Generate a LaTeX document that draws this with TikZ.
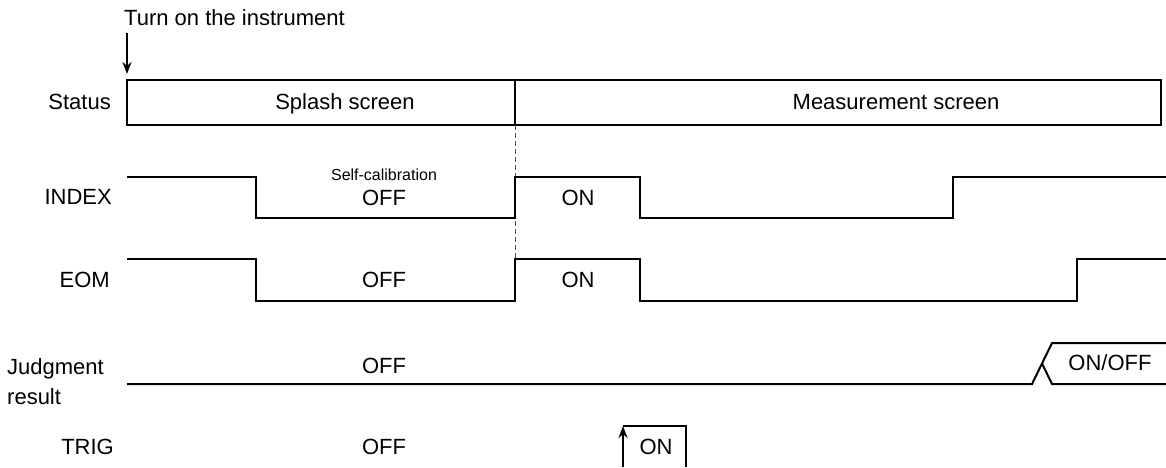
\documentclass[tikz,border=0pt]{standalone}
\usepackage{fontspec}
\setmainfont{Liberation Sans}
\usetikzlibrary{arrows.meta}
\begin{document}
\begin{tikzpicture}[x=1pt,y=-1pt,
  sig/.style={line width=2pt, line join=miter},
  txt/.style={font=\fontsize{22}{25}\selectfont, inner sep=0pt, anchor=mid, yshift=-4.5pt},
  smalltxt/.style={font=\fontsize{16}{18}\selectfont, inner sep=0pt, anchor=mid, yshift=-3pt},
  lbl/.style={txt, anchor=mid east},
  arr/.style={line width=2pt, -{Stealth[length=12pt,width=9pt]}},
  guide/.style={line width=0.8pt, dash pattern=on 5pt off 3pt, black!70}]
\useasboundingbox (0,0) rectangle (1166,467);

% caption and power-on arrow
\node[txt, anchor=mid west] (cap) at (124,18) {Turn on the instrument};
\coordinate (pwrA) at (127,33);
\coordinate (pwrB) at (127,74);
\draw[arr] (pwrA) -- (pwrB);

% status row
\node[lbl] (lstatus) at (111,102) {Status};
\draw[sig] (127,80) rectangle (1161,125);
\coordinate (divT) at (515,80);
\coordinate (divB) at (515,125);
\draw[sig] (divT) -- (divB);
\node[txt] (splash) at (345,102) {Splash screen};
\node[txt] (meas) at (896,102) {Measurement screen};

% dashed guide
\coordinate (guideB) at (515,258);
\draw[guide] (divB) -- (guideB);

% INDEX
\node[lbl] (lindex) at (112,197) {INDEX};
\draw[sig] (127,177) -- (256,177) -- (256,218) -- (515,218) -- (515,177)
  -- (640,177) -- (640,218) -- (953,218) -- (953,177) -- (1166,177);
\node[smalltxt] (selfcal) at (384,175) {Self-calibration};
\node[txt] (ioff) at (384,198) {OFF};
\node[txt] (ion) at (578,198) {ON};

% EOM
\node[lbl] (leom) at (110,280) {EOM};
\draw[sig] (127,259) -- (256,259) -- (256,301) -- (515,301) -- (515,259)
  -- (640,259) -- (640,301) -- (1077,301) -- (1077,259) -- (1166,259);
\node[txt] (eoff) at (384,280) {OFF};
\node[txt] (eon) at (578,280) {ON};

% Judgment result
\node[txt, anchor=mid west] (ljud1) at (7,367) {Judgment};
\node[txt, anchor=mid west] (ljud2) at (7,397) {result};
\draw[sig] (127,384) -- (1032,384) -- (1052,343) -- (1166,343);
\draw[sig] (1042,363.5) -- (1052,384) -- (1166,384);
\node[txt] (joff) at (384,366) {OFF};
\node[txt] (jon) at (1110,363) {ON/OFF};

% TRIG
\node[lbl] (ltrig) at (114,447) {TRIG};
\node[txt] (toff) at (384,447) {OFF};
\coordinate (trA) at (623,467);
\coordinate (trB) at (623,426);
\draw[arr] (trA) -- (trB);
\draw[sig] (623,426) -- (686,426) -- (686,467);
\node[txt] (ton) at (656,447) {ON};
\end{tikzpicture}
\end{document}
